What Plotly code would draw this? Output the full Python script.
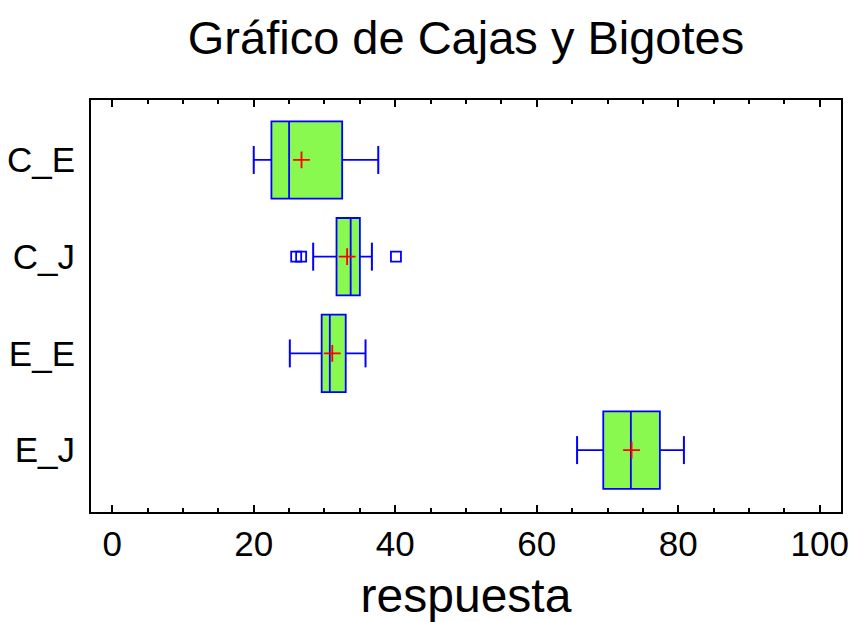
import plotly.graph_objects as go

categories = ["C_E", "C_J", "E_E", "E_J"]
q1 = [22.5, 31.7, 29.6, 69.4]
median = [25.0, 33.7, 30.75, 73.3]
q3 = [32.5, 35.0, 33.0, 77.4]
lower_whisker = [20.0, 28.4, 25.1, 65.7]
upper_whisker = [37.6, 36.7, 35.8, 80.8]
means = [26.75, 33.2, 31.1, 73.4]
outlier_cat = ["C_J", "C_J", "C_J"]
outlier_val = [26.0, 26.7, 40.1]

BLUE = "#0000ff"
GREEN = "#89f94f"
FONT = "Liberation Sans, Arial, sans-serif"

fig = go.Figure()

for i, c in enumerate(categories):
    fig.add_trace(go.Box(
        y=[c], q1=[q1[i]], median=[median[i]], q3=[q3[i]],
        lowerfence=[lower_whisker[i]], upperfence=[upper_whisker[i]],
        orientation="h", width=0.8, fillcolor=GREEN,
        line=dict(color=BLUE, width=1.8), whiskerwidth=0,
        boxpoints=False, showlegend=False, hoverinfo="skip",
    ))

# whisker caps
fig.add_trace(go.Scatter(
    x=lower_whisker + upper_whisker, y=categories + categories,
    mode="markers", showlegend=False, hoverinfo="skip",
    marker=dict(symbol="line-ns", size=20, line=dict(color=BLUE, width=2)),
))

# outliers
fig.add_trace(go.Scatter(
    x=outlier_val, y=outlier_cat, mode="markers", showlegend=False,
    marker=dict(symbol="square-open", size=10, color=BLUE, line=dict(color=BLUE, width=1.8)),
))

# means
fig.add_trace(go.Scatter(
    x=means, y=categories, mode="markers", showlegend=False,
    marker=dict(symbol="cross-thin", size=12, line=dict(color="#ff0000", width=1.8)),
))

fig.update_layout(
    width=851, height=622,
    paper_bgcolor="white", plot_bgcolor="white",
    margin=dict(l=91, r=10, t=100, b=110, autoexpand=False),
    font=dict(family=FONT, color="black"),
    title=dict(text="Gráfico de Cajas y Bigotes", x=0.5, xref="paper", xanchor="center",
               y=0.94, yref="container", yanchor="middle",
               font=dict(size=47, family=FONT, color="black")),
)

fig.update_xaxes(
    range=[-3, 103], tickvals=[0, 20, 40, 60, 80, 100], automargin=False,
    ticks="inside", ticklen=7, tickwidth=1.5, tickcolor="black",
    minor=dict(dtick=5, tick0=0, ticks="inside", ticklen=4, tickwidth=1.5, tickcolor="black"),
    showline=True, linecolor="black", linewidth=2, mirror="ticks",
    showgrid=False, zeroline=False,
    tickfont=dict(size=35), title=dict(text="respuesta", font=dict(size=48), standoff=20),
)

fig.update_yaxes(
    categoryorder="array", categoryarray=categories[::-1], automargin=False,
    range=[-0.64, 3.62],
    showline=True, linecolor="black", linewidth=2, mirror=True,
    showgrid=False, zeroline=False, ticks="",
    tickfont=dict(size=35), ticklabelstandoff=7,
)

fig.write_html("out.html")
